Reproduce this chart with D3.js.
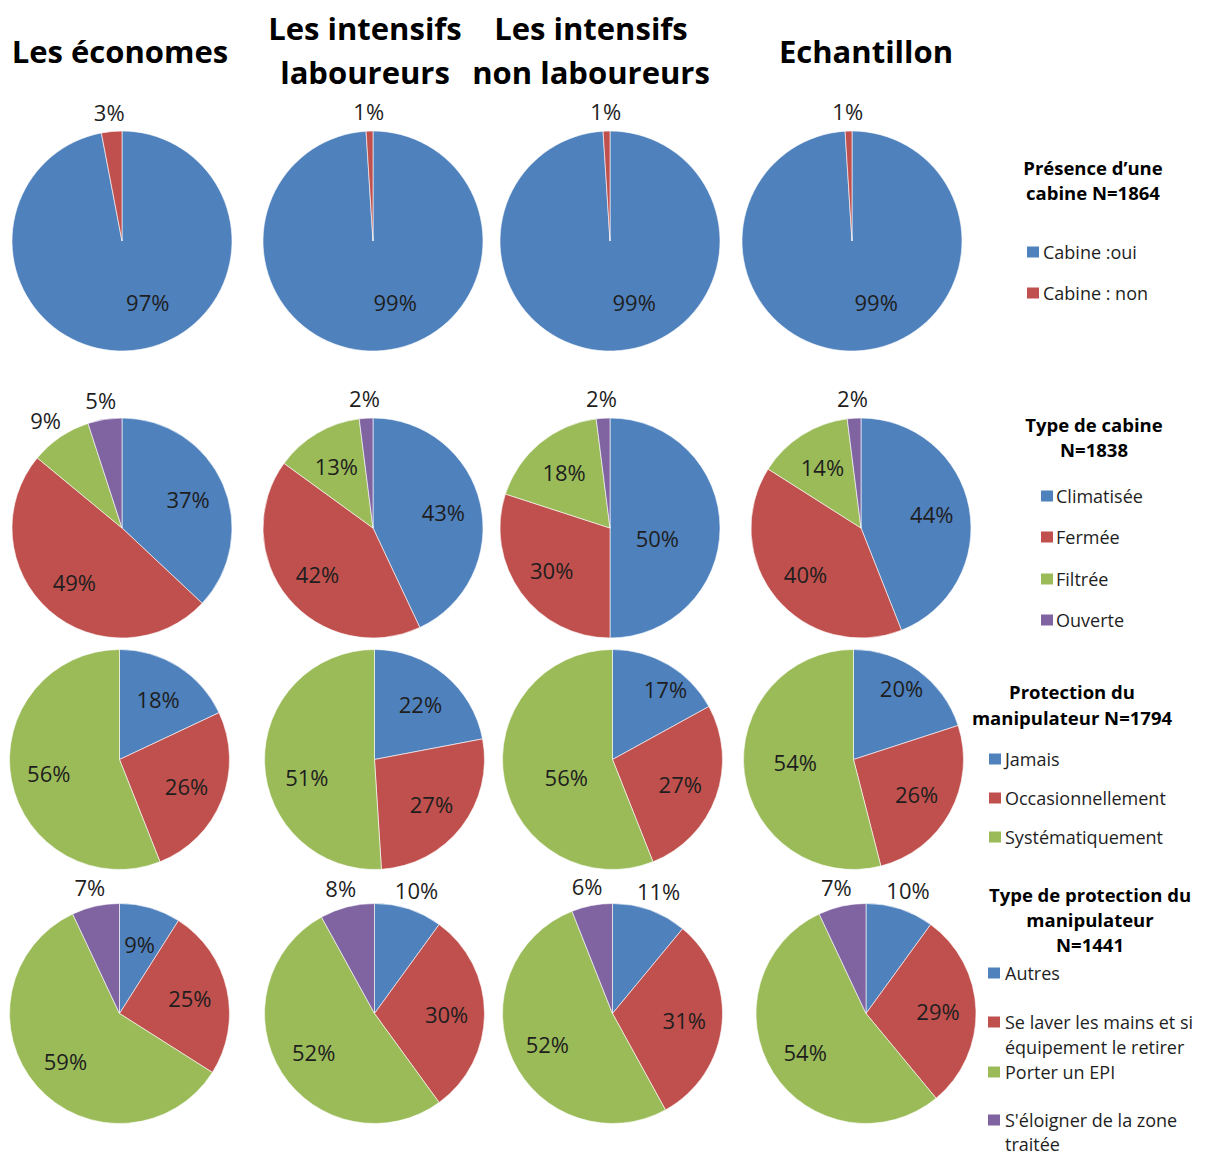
<!DOCTYPE html>
<html>
<head>
<meta charset="utf-8">
<script src="https://cdn.jsdelivr.net/npm/d3@7"></script>
<style>
  html, body { margin: 0; padding: 0; background: #ffffff; }
  svg { display: block; }
</style>
</head>
<body>
<svg id="chart" width="1210" height="1155"></svg>
<script>
// ---------------- DATA ----------------
const groups = ["Les économes", "Les intensifs laboureurs", "Les intensifs non laboureurs", "Echantillon"];
const groupTitleLines = [["Les économes"], ["Les intensifs", "laboureurs"], ["Les intensifs", "non laboureurs"], ["Echantillon"]];

const cabineCategories = ["Cabine :oui", "Cabine : non"];
const cabineValues = [[97, 3], [99, 1], [99, 1], [99, 1]];

const typeCabineCategories = ["Climatisée", "Fermée", "Filtrée", "Ouverte"];
const typeCabineValues = [[37, 49, 9, 5], [43, 42, 13, 2], [50, 30, 18, 2], [44, 40, 14, 2]];

const protectionCategories = ["Jamais", "Occasionnellement", "Systématiquement"];
const protectionValues = [[18, 26, 56], [22, 27, 51], [17, 27, 56], [20, 26, 54]];

const typeProtectionCategories = ["Autres", "Se laver les mains et si équipement le retirer", "Porter un EPI", "S'éloigner de la zone traitée"];
const typeProtectionValues = [[9, 25, 59, 7], [10, 30, 52, 8], [11, 31, 52, 6], [10, 29, 54, 7]];

const legendTitles = [
  ["Présence d\u2019une", "cabine N=1864"],
  ["Type de cabine", "N=1838"],
  ["Protection du", "manipulateur N=1794"],
  ["Type de protection du", "manipulateur", "N=1441"]
];

// ---------------- LAYOUT (positions / styles) ----------------
const colors = ["#4F81BD", "#C0504D", "#9BBB59", "#8064A2"];
const R = 110;
const rowCY = [241, 528, 759.5, 1013.5];
const rowCX = [[122, 373, 610, 852], [122, 373, 610, 861], [119.5, 374.5, 612.5, 853.5], [119.5, 374.5, 612.5, 866]];
// which slice labels are placed outside the pie
const outsideLabels = [
  [[0, 1], [0, 1], [0, 1], [0, 1]],
  [[0, 0, 1, 1], [0, 0, 0, 1], [0, 0, 0, 1], [0, 0, 0, 1]],
  [[0, 0, 0], [0, 0, 0], [0, 0, 0], [0, 0, 0]],
  [[0, 0, 0, 1], [1, 0, 0, 1], [1, 0, 0, 1], [1, 0, 0, 1]]
];
// "best fit" label placement overrides: [row, col, slice, angleDeg (clockwise from top), radius factor]
const labelOverrides = [
  [0, 0, 0, 157, 0.6], [0, 1, 0, 160, 0.59], [0, 2, 0, 158.5, 0.6], [0, 3, 0, 158.5, 0.6],
  [1, 2, 0, 102, 0.44],
  [2, 1, 2, 255.5, 0.635], [2, 2, 0, 37, 0.8], [2, 2, 2, 249, 0.45],
  [2, 3, 0, 34, 0.78], [2, 3, 2, 267.5, 0.53]
];
const titleCX = [120, 365, 591, 866];

const rows = [
  { cats: cabineCategories, vals: cabineValues },
  { cats: typeCabineCategories, vals: typeCabineValues },
  { cats: protectionCategories, vals: protectionValues },
  { cats: typeProtectionCategories, vals: typeProtectionValues }
];

const svg = d3.select("#chart");
const FONT = "'Open Sans', 'Noto Sans', sans-serif";

// Column titles
groupTitleLines.forEach((lines, i) => {
  const t = svg.append("text")
    .attr("x", titleCX[i])
    .attr("text-anchor", "middle")
    .attr("font-family", FONT)
    .attr("font-weight", "bold")
    .attr("font-size", 31)
    .attr("fill", "#000");
  if (lines.length === 1) {
    t.append("tspan").attr("x", titleCX[i]).attr("y", 63).text(lines[0]);
  } else {
    t.append("tspan").attr("x", titleCX[i]).attr("y", 40).text(lines[0]);
    t.append("tspan").attr("x", titleCX[i]).attr("y", 84).text(lines[1]);
  }
});

const pie = d3.pie().sort(null).value(d => d);
const arc = d3.arc().innerRadius(0).outerRadius(R);
const labelArc = d3.arc().innerRadius(R * 0.655).outerRadius(R * 0.655);

rows.forEach((row, ri) => {
  row.vals.forEach((vals, ci) => {
    const g = svg.append("g").attr("transform", `translate(${rowCX[ri][ci]},${rowCY[ri]})`);
    const arcs = pie(vals);
    g.selectAll("path").data(arcs).enter().append("path")
      .attr("d", arc)
      .attr("fill", (d, i) => colors[i])
      .attr("stroke", "#ffffff")
      .attr("stroke-width", 0.6);
    g.selectAll("text").data(arcs).enter().append("text")
      .attr("font-family", FONT)
      .attr("font-size", 22)
      .attr("fill", "#1e1e1e")
      .attr("text-anchor", "middle")
      .attr("dominant-baseline", "central")
      .attr("transform", (d, i) => {
        const ov = labelOverrides.find(o => o[0] === ri && o[1] === ci && o[2] === i);
        if (ov) {
          const a = ov[3] * Math.PI / 180;
          return `translate(${Math.sin(a) * R * ov[4]},${-Math.cos(a) * R * ov[4]})`;
        }
        if (outsideLabels[ri][ci][i]) {
          const a = (d.startAngle + d.endAngle) / 2;
          const s = Math.sin(a), c = Math.cos(a);
          const w = 34, h = 22;
          const x = s * (R + 9) + s * w / 2;
          const y = -c * (R + 9) - c * h / 2;
          return `translate(${x},${y})`;
        }
        const [x, y] = labelArc.centroid(d);
        return `translate(${x},${y})`;
      })
      .text(d => d.data + "%");
  });
});

// Legends
const legendSpecs = [
  { title: legendTitles[0], tcx: 1093, tys: [167, 192], sqx: 1027, tx: 1043,
    items: [[cabineCategories[0]], [cabineCategories[1]]], iys: [[252], [293]] },
  { title: legendTitles[1], tcx: 1094, tys: [424, 449], sqx: 1041, tx: 1056,
    items: typeCabineCategories.map(c => [c]), iys: [[496], [537], [579], [620]] },
  { title: legendTitles[2], tcx: 1072, tys: [691, 717], sqx: 989, tx: 1005,
    items: protectionCategories.map(c => [c]), iys: [[759], [798], [837]] },
  { title: legendTitles[3], tcx: 1090, tys: [894, 919, 944], sqx: 988, tx: 1005,
    items: [["Autres"], ["Se laver les mains et si", "équipement le retirer"], ["Porter un EPI"], ["S'éloigner de la zone", "traitée"]],
    iys: [[973], [1022, 1047], [1072], [1120, 1144]] }
];

legendSpecs.forEach(spec => {
  const lg = svg.append("g");
  spec.title.forEach((line, i) => {
    lg.append("text")
      .attr("x", spec.tcx).attr("y", spec.tys[i])
      .attr("text-anchor", "middle")
      .attr("dominant-baseline", "central")
      .attr("font-family", FONT).attr("font-weight", "bold").attr("font-size", 18.5)
      .attr("fill", "#000")
      .text(line);
  });
  spec.items.forEach((lines, i) => {
    lg.append("rect")
      .attr("x", spec.sqx).attr("y", spec.iys[i][0] - 5.5)
      .attr("width", 12).attr("height", 11)
      .attr("fill", colors[i]);
    lines.forEach((line, j) => {
      lg.append("text")
        .attr("x", spec.tx).attr("y", spec.iys[i][j])
        .attr("dominant-baseline", "central")
        .attr("font-family", FONT).attr("font-size", 18)
        .attr("fill", "#1e1e1e")
        .text(line);
    });
  });
});
</script>
</body>
</html>
